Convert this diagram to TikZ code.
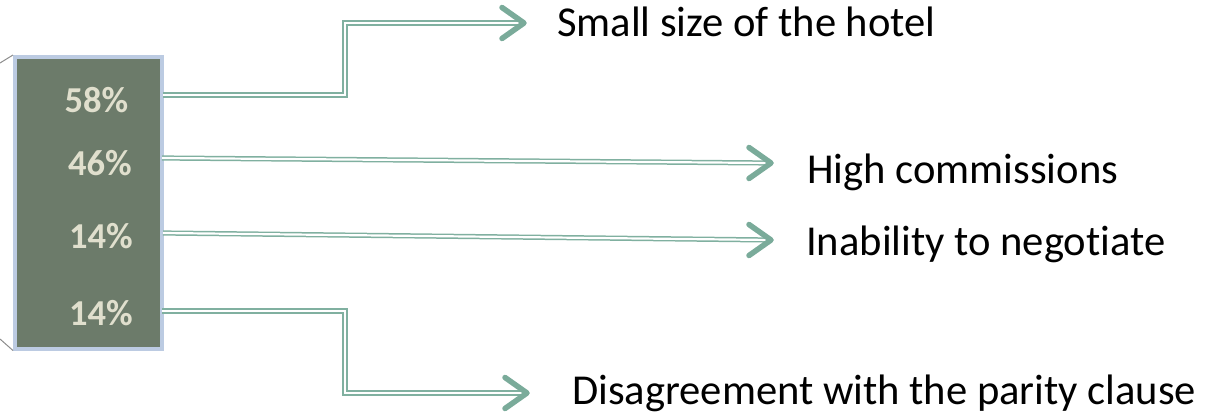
\documentclass[tikz,border=0pt]{standalone}
\usepackage{fontspec}
\setmainfont[Ligatures=NoCommon]{Carlito}
\usetikzlibrary{calc}
\definecolor{boxfill}{HTML}{6C7B6A}
\definecolor{boxedge}{HTML}{BCCBE2}
\definecolor{pcttext}{HTML}{E0DFCD}
\definecolor{arrline}{HTML}{80B0A0}
\definecolor{arrhead}{HTML}{7AAB9A}
\definecolor{sidegray}{HTML}{8C8C8C}
\tikzset{
  pct/.style={font=\fontsize{36.5}{40}\selectfont\bfseries, text=pcttext, anchor=base, inner sep=0pt},
  lab/.style={font=\fontsize{42.6}{48}\selectfont, text=black, anchor=base west, inner sep=0pt},
  conn/.style={draw=arrline, line width=1.5pt, double=white, double distance=2.2pt},
  chev/.style={draw=arrhead, line width=5.5pt, line cap=round, line join=round},
  side/.style={draw=sidegray, line width=1pt}
}
\begin{document}
\begin{tikzpicture}[x=1pt,y=-1pt]
\useasboundingbox (0,0) rectangle (1212,415);
% box
\node[draw=boxedge, fill=boxfill, line width=3.5pt, minimum width=147pt, minimum height=292pt, inner sep=0pt, anchor=north west] (box) at (13,55) {};
% side lines
\coordinate (g1) at (0,63);
\coordinate (g2) at (0,339);
\draw[side] (g1) -- (box.north west);
\draw[side] (g2) -- (box.south west);
% percentages
\node[pct] (p1) at (96.5,112) {58\%};
\node[pct] (p2) at (100,175) {46\%};
\node[pct] (p3) at (101,248) {14\%};
\node[pct] (p4) at (101,325) {14\%};
% labels
\node[lab] (l1) at (557,36) {Small size of the hotel};
\node[lab] (l2) at (807,183) {High commissions};
\node[lab] (l3) at (806,255) {Inability to negotiate};
\node[lab] (l4) at (572,404) {Disagreement with the parity clause};
% connector end points
\coordinate (s1) at (163,95);
\coordinate (s2) at (162,158);
\coordinate (s3) at (163,233);
\coordinate (s4) at (162,311);
\coordinate (t1) at (524,23);
\coordinate (t2) at (771,163);
\coordinate (t3) at (771,240);
\coordinate (t4) at (527,393);
% connectors
\draw[conn] (s1) -- ++(182,0) |- (t1);
\draw[conn] (s2) -- (t2);
\draw[conn] (s3) -- (t3);
\draw[conn] (s4) -- ++(183,0) |- (t4);
% arrow heads
\foreach \t in {t1,t2,t3,t4}{
  \draw[chev] ($(\t)+(-22,-15.5)$) -- (\t) -- ($(\t)+(-22,15.5)$);
}
\end{tikzpicture}
\end{document}
